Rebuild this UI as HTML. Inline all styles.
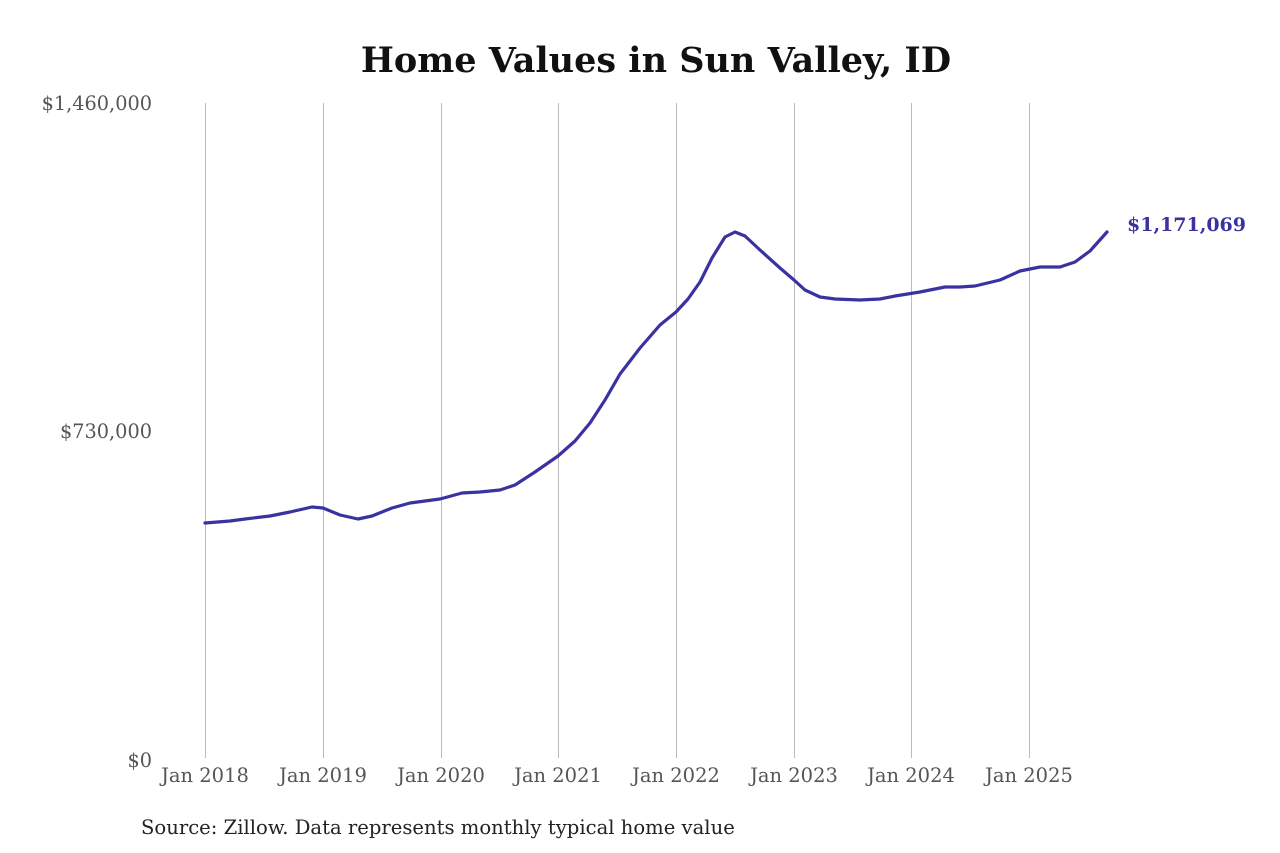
<!DOCTYPE html>
<html><head><meta charset="utf-8"><style>
html,body{margin:0;padding:0;background:#fff;}
svg{display:block;font-family:"DejaVu Serif","Liberation Serif",serif;}
</style></head><body>
<svg width="1280" height="853" viewBox="0 0 1280 853" xmlns="http://www.w3.org/2000/svg">
<rect width="1280" height="853" fill="#fff"/>
<text x="656" y="72" text-anchor="middle" font-size="35" font-weight="bold" fill="#111">Home Values in Sun Valley, ID</text>
<g stroke="#bbb" stroke-width="1">
<line x1="205.5" y1="103" x2="205.5" y2="758"/>
<line x1="323.5" y1="103" x2="323.5" y2="758"/>
<line x1="441.5" y1="103" x2="441.5" y2="758"/>
<line x1="558.5" y1="103" x2="558.5" y2="758"/>
<line x1="676.5" y1="103" x2="676.5" y2="758"/>
<line x1="794.5" y1="103" x2="794.5" y2="758"/>
<line x1="911.5" y1="103" x2="911.5" y2="758"/>
<line x1="1029.5" y1="103" x2="1029.5" y2="758"/>
</g>
<g font-size="19.3" fill="#555" text-anchor="end">
<text x="152" y="110">$1,460,000</text>
<text x="152" y="438">$730,000</text>
<text x="152" y="767">$0</text>
</g>
<g font-size="19.5" fill="#555" text-anchor="middle">
<text x="205" y="782">Jan 2018</text>
<text x="323" y="782">Jan 2019</text>
<text x="441" y="782">Jan 2020</text>
<text x="558" y="782">Jan 2021</text>
<text x="676" y="782">Jan 2022</text>
<text x="794" y="782">Jan 2023</text>
<text x="911" y="782">Jan 2024</text>
<text x="1029" y="782">Jan 2025</text>
</g>
<text x="141" y="834" font-size="19.6" fill="#222">Source: Zillow. Data represents monthly typical home value</text>
<polyline fill="none" stroke="#3a32a0" stroke-width="3.2" stroke-linejoin="round" stroke-linecap="round"
points="205,523 230,521 245,519 270,516 290,512 312,507 323,508 340,515 358,519 372,516 392,508 410,503 440,499 462,493 480,492 500,490 515,485 535,472 558,456 575,441 590,423 605,400 620,374 640,348 660,325 676,312 688,299 700,282 712,258 725,237 735,232 745,236 760,250 780,268 794,280 805,290 820,297 835,299 860,300 880,299 895,296 920,292 945,287 960,287 975,286 1000,280 1020,271 1040,267 1060,267 1075,262 1090,251 1107,232"/>
<text x="1127" y="231" font-size="19" font-weight="bold" fill="#3a32a0">$1,171,069</text>
</svg>
</body></html>
